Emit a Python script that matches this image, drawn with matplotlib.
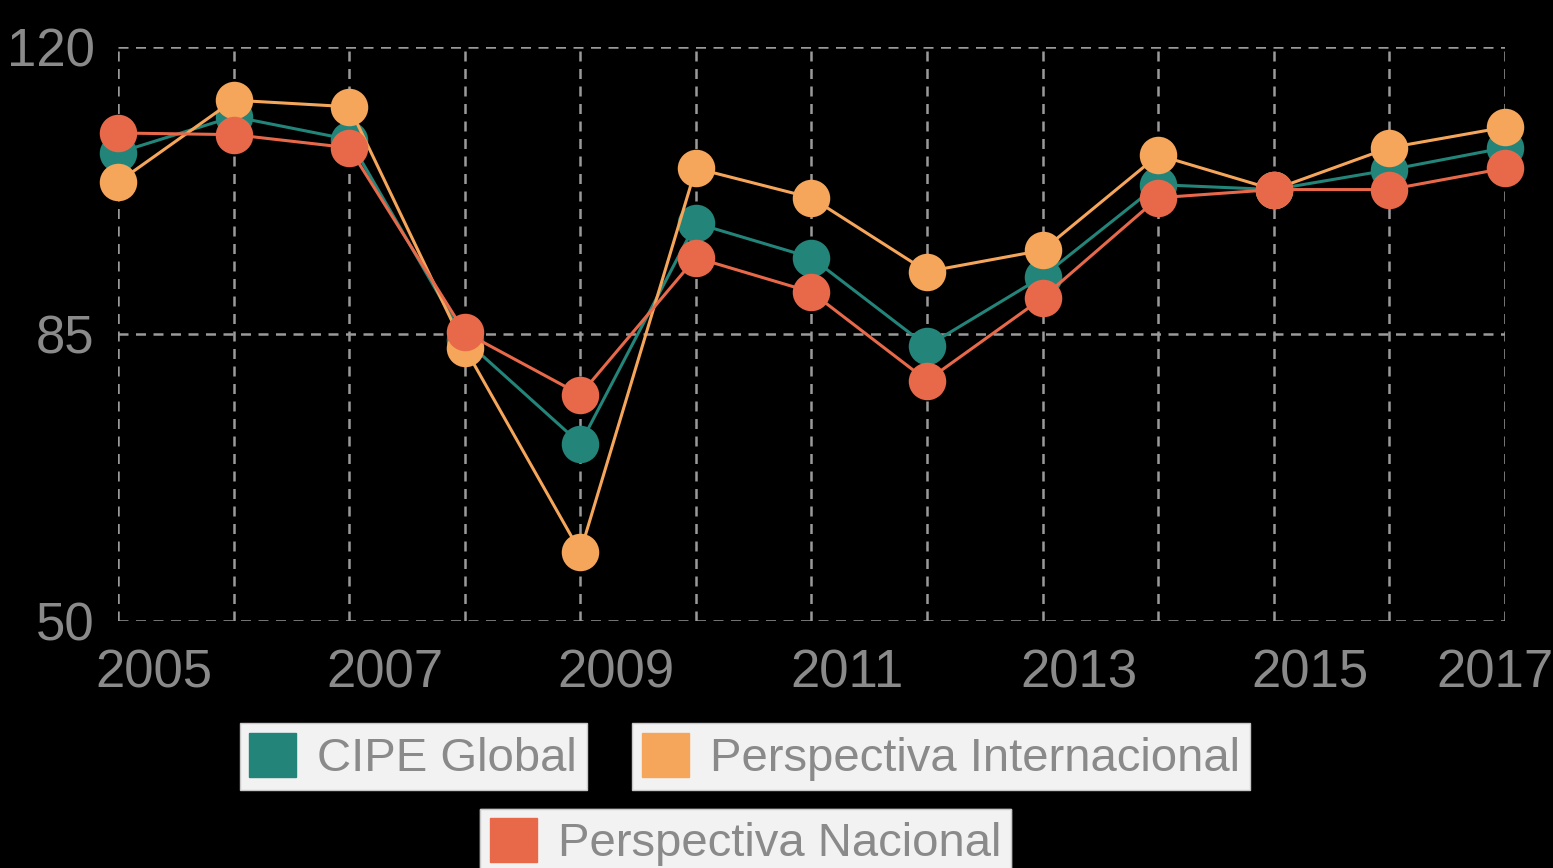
import matplotlib
matplotlib.use("Agg")
from matplotlib import pyplot as plt
from matplotlib.patches import Patch
from matplotlib.transforms import ScaledTranslation

years = list(range(2005, 2018))
cipe_global = [107.1, 111.5, 108.7, 84.3, 71.6, 98.5, 94.3, 83.5, 92.0, 103.2, 102.6, 105.0, 107.7]
persp_internacional = [103.5, 113.5, 112.7, 83.3, 58.4, 105.2, 101.6, 92.6, 95.2, 106.8, 102.6, 107.7, 110.2]
persp_nacional = [109.5, 109.3, 107.7, 85.2, 77.6, 94.3, 90.1, 79.3, 89.4, 101.6, 102.6, 102.6, 105.2]
tick_years = [2005, 2007, 2009, 2011, 2013, 2015, 2017]
y_ticks = [50, 85, 120]

teal = "#23857a"
orange = "#f6a65a"
red = "#e8694a"
gray = "#8a8a8a"

plt.rcParams['font.family'] = ['Liberation Sans', 'DejaVu Sans']

fig = plt.figure(figsize=(15.53, 8.68), dpi=100, facecolor="black")
ax = fig.add_axes([0.076, 0.2846, 0.893, 0.6614], facecolor="black")

# series: teal underneath, red on top
for vals, col in [(cipe_global, teal), (persp_internacional, orange), (persp_nacional, red)]:
    ax.plot(years, vals, color=col, lw=2.2, marker="o", markersize=27,
            markeredgewidth=0, clip_on=False)

ax.set_xlim(2005, 2017)
ax.set_ylim(50, 120)
ax.set_xticks(years)
ax.set_xticklabels([str(y) if y in tick_years else "" for y in years])
ax.set_yticks(y_ticks)
ax.grid(True, color="#9a9a9a", linestyle=(0, (4, 3)), lw=1.8)
ax.set_axisbelow(True)
for s in ax.spines.values():
    s.set_visible(False)
ax.tick_params(length=0, colors=gray, labelsize=38, pad=20)
ax.tick_params(axis="y", pad=17)

# year labels sit a bit to the right of their gridlines, last one pulled in
labels = ax.get_xticklabels()
for i, lab in enumerate(labels):
    dx = -0.1 if i == len(labels) - 1 else 0.36
    lab.set_transform(lab.get_transform() + ScaledTranslation(dx, 0, fig.dpi_scale_trans))

# one box per legend entry
entries = [("CIPE Global", teal, (0.266, 0.128)),
           ("Perspectiva Internacional", orange, (0.606, 0.128)),
           ("Perspectiva Nacional", red, (0.480, 0.030))]
for name, col, pos in entries:
    leg = ax.legend(handles=[Patch(facecolor=col, edgecolor=col)], labels=[name],
                    loc="center", bbox_to_anchor=pos, bbox_transform=fig.transFigure,
                    fontsize=34, frameon=True, fancybox=False, framealpha=1,
                    handlelength=1.0, handleheight=1.05, handletextpad=0.45,
                    borderpad=0.2, borderaxespad=0, labelcolor=gray)
    leg.get_frame().set_facecolor("#f2f2f2")
    leg.get_frame().set_edgecolor("#c8c8c8")
    ax.add_artist(leg)

fig.savefig("out.png", dpi=100, facecolor="black")
